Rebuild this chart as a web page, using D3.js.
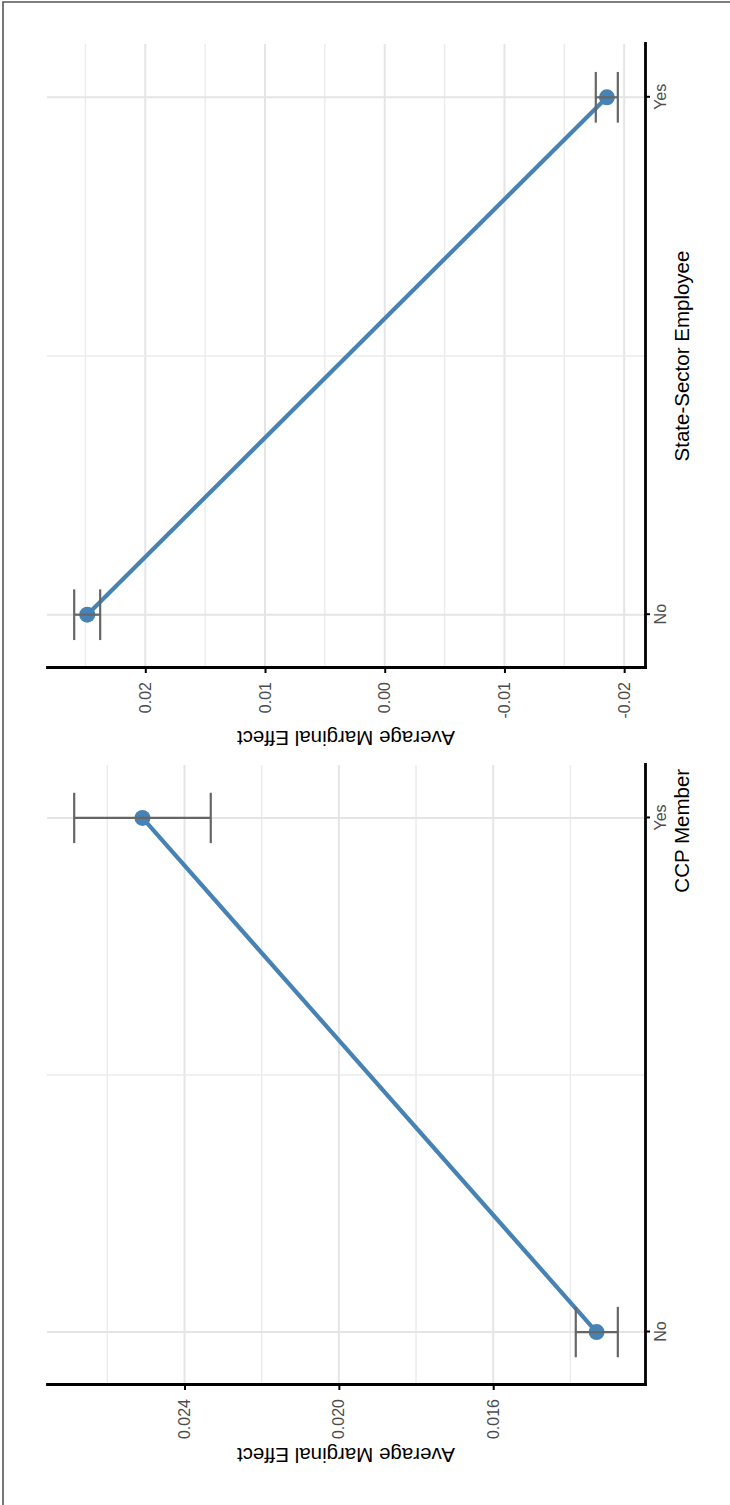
<!DOCTYPE html>
<html>
<head>
<meta charset="utf-8">
<script src="https://cdn.jsdelivr.net/npm/d3@7"></script>
<style>
body { margin: 0; background: #fff; }
svg { display: block; font-family: "Liberation Sans", Arial, sans-serif; }
</style>
</head>
<body>
<div id="chart"></div>
<script>
// values
var categories = ["No", "Yes"];
var yTitle = "Average Marginal Effect";

var ccpTitle = "CCP Member";
var ccpEffect = [0.01332, 0.02509];
var ccpLower = [0.01277, 0.02332];
var ccpUpper = [0.01386, 0.02686];
var ccpTicks = [0.016, 0.020, 0.024];
var ccpTickLabels = ["0.016", "0.020", "0.024"];

var stateTitle = "State-Sector Employee";
var stateEffect = [0.02485, -0.01856];
var stateLower = [0.02377, -0.01947];
var stateUpper = [0.02594, -0.01763];
var stateTicks = [-0.02, -0.01, 0, 0.01, 0.02];
var stateTickLabels = ["-0.02", "-0.01", "0.00", "0.01", "0.02"];

var W = 730, H = 1505;

var svg = d3.select("#chart").append("svg")
    .attr("width", W)
    .attr("height", H);

// the whole figure is drawn lying on its side, like the picture
var fig = svg.append("g")
    .attr("transform", "translate(0," + H + ") rotate(-90)");

var panelTop = 47, panelBottom = 645;

function drawPanel(left, right, effect, lower, upper, ticks, tickLabels, xTitle, titlePos) {
  var g = fig.append("g");

  var lo = d3.min(lower), hi = d3.max(upper), pad = (hi - lo) * 0.05;
  var y = d3.scaleLinear()
      .domain([lo - pad, hi + pad])
      .range([panelBottom, panelTop]);

  var x = d3.scalePoint()
      .domain(categories)
      .range([left, right])
      .padding(0.103);

  // minor grid: half way between the major ticks
  var step = ticks[1] - ticks[0];
  var minor = [];
  for (var v = ticks[0] - step / 2; v <= ticks[ticks.length - 1] + step; v += step) {
    if (v >= y.domain()[0] && v <= y.domain()[1]) minor.push(v);
  }
  g.selectAll(".yminor").data(minor).enter().append("line")
      .attr("x1", left).attr("x2", right)
      .attr("y1", function(d) { return y(d); })
      .attr("y2", function(d) { return y(d); })
      .attr("stroke", "#ebebeb").attr("stroke-width", 1.4);
  g.selectAll(".ymajor").data(ticks).enter().append("line")
      .attr("x1", left).attr("x2", right)
      .attr("y1", function(d) { return y(d); })
      .attr("y2", function(d) { return y(d); })
      .attr("stroke", "#e5e5e5").attr("stroke-width", 2);

  var mid = (x(categories[0]) + x(categories[1])) / 2;
  g.append("line")
      .attr("x1", mid).attr("x2", mid)
      .attr("y1", panelTop).attr("y2", panelBottom)
      .attr("stroke", "#ebebeb").attr("stroke-width", 1.4);
  g.selectAll(".xmajor").data(categories).enter().append("line")
      .attr("x1", function(d) { return x(d); })
      .attr("x2", function(d) { return x(d); })
      .attr("y1", panelTop).attr("y2", panelBottom)
      .attr("stroke", "#e5e5e5").attr("stroke-width", 2);

  var rows = categories.map(function(c, i) {
    return { cat: c, val: effect[i], lo: lower[i], hi: upper[i] };
  });

  g.append("path")
      .datum(rows)
      .attr("fill", "none")
      .attr("stroke", "#4682b4")
      .attr("stroke-width", 4.2)
      .attr("d", d3.line()
        .x(function(d) { return x(d.cat); })
        .y(function(d) { return y(d.val); }));

  g.selectAll(".pt").data(rows).enter().append("circle")
      .attr("cx", function(d) { return x(d.cat); })
      .attr("cy", function(d) { return y(d.val); })
      .attr("r", 8)
      .attr("fill", "#4682b4");

  //error bars with caps
  var cap = x.step() * 0.049;
  var eb = g.selectAll(".eb").data(rows).enter().append("g")
      .attr("stroke", "#666666").attr("stroke-width", 2.2).attr("fill", "none");
  eb.append("line")
      .attr("x1", function(d) { return x(d.cat); })
      .attr("x2", function(d) { return x(d.cat); })
      .attr("y1", function(d) { return y(d.lo); })
      .attr("y2", function(d) { return y(d.hi); });
  eb.append("line")
      .attr("x1", function(d) { return x(d.cat) - cap; })
      .attr("x2", function(d) { return x(d.cat) + cap; })
      .attr("y1", function(d) { return y(d.lo); })
      .attr("y2", function(d) { return y(d.lo); });
  eb.append("line")
      .attr("x1", function(d) { return x(d.cat) - cap; })
      .attr("x2", function(d) { return x(d.cat) + cap; })
      .attr("y1", function(d) { return y(d.hi); })
      .attr("y2", function(d) { return y(d.hi); });

  // axes
  var ya = g.append("g")
      .attr("transform", "translate(" + left + ",0)")
      .call(d3.axisLeft(y).tickValues(ticks)
        .tickFormat(function(d, i) { return tickLabels[i]; })
        .tickSize(5).tickSizeOuter(0).tickPadding(9));
  var xa = g.append("g")
      .attr("transform", "translate(0," + panelBottom + ")")
      .call(d3.axisBottom(x).tickSize(5).tickSizeOuter(0).tickPadding(5));

  [ya, xa].forEach(function(a) {
    a.attr("font-size", null).attr("font-family", null);
    a.select(".domain").attr("stroke", "#000").attr("stroke-width", 2.8)
      .attr("stroke-linecap", "square");
    a.selectAll(".tick line").attr("stroke", "#000").attr("stroke-width", 2);
    a.selectAll(".tick text").attr("fill", "#4d4d4d")
      .style("font-size", "16px");
  });

  g.append("text")
      .attr("transform", "translate(" + (left - 63) + "," + ((panelTop + panelBottom) / 2) + ") rotate(-90)")
      .attr("text-anchor", "middle")
      .style("font-size", "20.5px")
      .attr("fill", "#000")
      .text(yTitle);

  g.append("text")
      .attr("x", left + (right - left) * titlePos)
      .attr("y", 689)
      .attr("text-anchor", "middle")
      .style("font-size", "20.5px")
      .attr("fill", "#000")
      .text(xTitle);
}

drawPanel(120, 740, ccpEffect, ccpLower, ccpUpper, ccpTicks, ccpTickLabels, ccpTitle, 0.894);
drawPanel(837, 1461, stateEffect, stateLower, stateUpper, stateTicks, stateTickLabels, stateTitle, 0.5);

// frame line on the left and top edges
svg.append("path")
    .attr("d", "M3," + H + "V2H" + W)
    .attr("fill", "none")
    .attr("stroke", "#555")
    .attr("stroke-width", 1.6);
</script>
</body>
</html>
